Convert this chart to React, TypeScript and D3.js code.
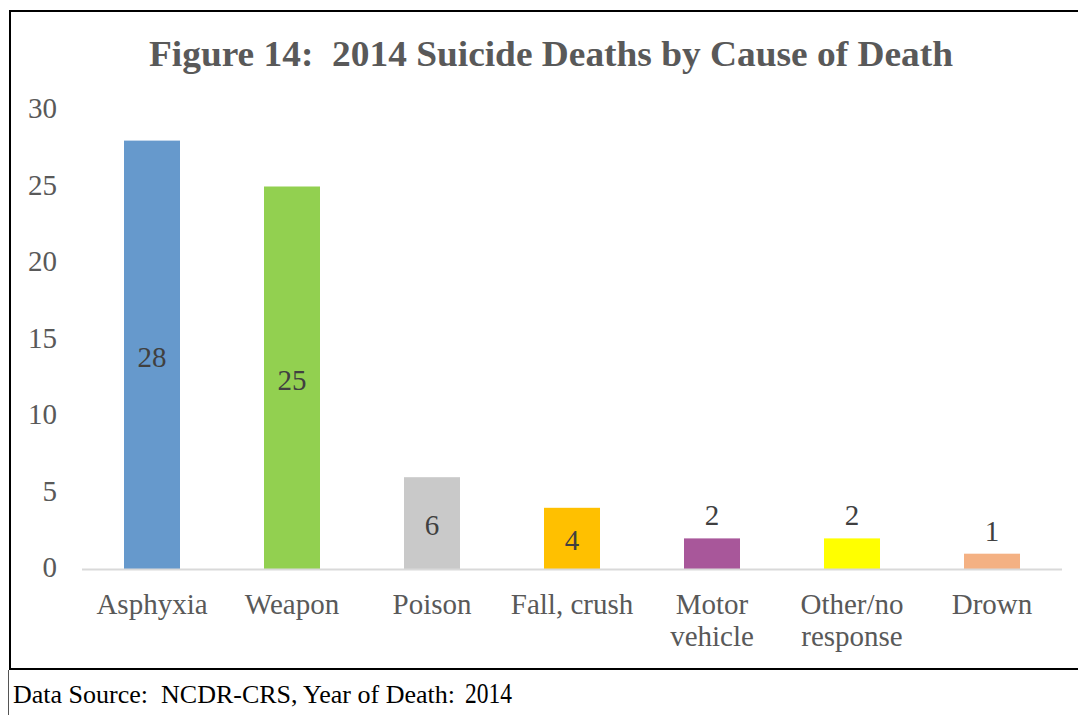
import React from "react";
import * as d3 from "d3";

const categories: string[][] = [
  ["Asphyxia"],
  ["Weapon"],
  ["Poison"],
  ["Fall, crush"],
  ["Motor", "vehicle"],
  ["Other/no", "response"],
  ["Drown"],
];
const values: number[] = [28, 25, 6, 4, 2, 2, 1];
const colors: string[] = ["#6699CC", "#92D050", "#C9C9C9", "#FFC000", "#A8579A", "#FFFF00", "#F4B183"];
const yTicks: number[] = [0, 5, 10, 15, 20, 25, 30];
const title = "Figure 14:  2014 Suicide Deaths by Cause of Death";
const footerText = "Data Source:  NCDR-CRS, Year of Death:";
const footerYear = "2014";

const FONT = "'Liberation Serif', 'Times New Roman', serif";

export default function App() {
  const W = 1078;
  const H = 715;
  const left = 82;
  const right = 1062;
  const top = 110;
  const bottom = 569;

  const x = d3
    .scaleBand<number>()
    .domain(values.map((_, i) => i))
    .range([left, right])
    .paddingInner(0.6)
    .paddingOuter(0.3);
  const y = d3.scaleLinear().domain([0, 30]).range([bottom, top]);

  return (
    <svg
      width={W}
      height={H}
      style={{ position: "absolute", left: 0, top: 0, background: "#fff" }}
      fontFamily={FONT}
    >
      <rect x={0} y={0} width={W} height={H} fill="#fff" />
      {/* frame */}
      <line x1={10} y1={11} x2={W} y2={11} stroke="#000" strokeWidth={2} />
      <line x1={10} y1={10} x2={10} y2={670} stroke="#000" strokeWidth={2} />
      <line x1={9} y1={669} x2={W} y2={669} stroke="#000" strokeWidth={2} />
      <line x1={8.5} y1={670} x2={8.5} y2={H} stroke="#555" strokeWidth={1} />

      <text
        x={551}
        y={66}
        textAnchor="middle"
        fontSize={35}
        fontWeight="bold"
        fill="#595959"
        textLength={804}
        lengthAdjust="spacingAndGlyphs"
        style={{ whiteSpace: "pre" }}
      >
        {title}
      </text>

      {yTicks.map((t) => (
        <text
          key={t}
          x={57}
          y={y(t) + 8}
          textAnchor="end"
          fontSize={29}
          fill="#595959"
        >
          {t}
        </text>
      ))}

      {values.map((v, i) => (
        <rect
          key={i}
          x={x(i)}
          y={y(v)}
          width={x.bandwidth()}
          height={y(0) - y(v)}
          fill={colors[i]}
        />
      ))}

      <line x1={left} y1={bottom + 0.5} x2={right} y2={bottom + 0.5} stroke="#D9D9D9" strokeWidth={2} />

      {values.map((v, i) => {
        const cx = (x(i) as number) + x.bandwidth() / 2;
        const inside = v >= 4;
        const ly = inside ? (y(v) + y(0)) / 2 + 12 : y(v) - 13;
        return (
          <text key={i} x={cx} y={ly} textAnchor="middle" fontSize={29} fill="#404040">
            {v}
          </text>
        );
      })}

      {categories.map((lines, i) => {
        const cx = (x(i) as number) + x.bandwidth() / 2;
        return (
          <text key={i} x={cx} y={614} textAnchor="middle" fontSize={29} fill="#595959">
            {lines.map((l, j) => (
              <tspan key={j} x={cx} dy={j === 0 ? 0 : 32}>
                {l}
              </tspan>
            ))}
          </text>
        );
      })}

      <text
        x={13}
        y={703}
        fontSize={25}
        fill="#000"
        textLength={442}
        lengthAdjust="spacingAndGlyphs"
        style={{ whiteSpace: "pre" }}
      >
        {footerText}
      </text>
      <text x={465} y={703} fontSize={29} fill="#000" textLength={47} lengthAdjust="spacingAndGlyphs">
        {footerYear}
      </text>
    </svg>
  );
}
